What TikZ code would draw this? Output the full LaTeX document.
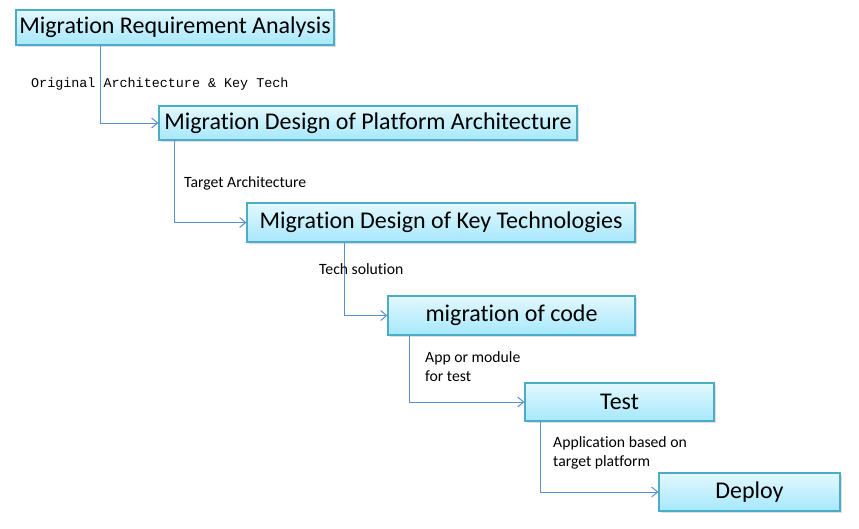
\documentclass[tikz,border=0pt]{standalone}
\usepackage{fontspec}
\setmainfont[Ligatures=NoCommon]{Carlito}
\newfontfamily\codefont{Liberation Mono}
\usetikzlibrary{arrows.meta,shadows}

\definecolor{boxtop}{HTML}{E3F8FE}
\definecolor{boxbottom}{HTML}{A6E8FC}
\definecolor{boxline}{HTML}{4BACC6}
\definecolor{flowline}{HTML}{5B8FD0}

\tikzset{
    phase/.style={draw=boxline, line width=1.2pt, top color=boxtop, bottom color=boxbottom,
        inner xsep=0pt, inner ysep=0pt,
        drop shadow={shadow xshift=2pt, shadow yshift=-2pt, opacity=0.25},
        font=\fontsize{24}{28}\selectfont},
    flow/.style={draw=flowline, line width=1pt, -{Straight Barb[length=6pt,width=10pt]}},
    note/.style={anchor=west, inner sep=0pt, align=left, font=\fontsize{15.7}{19}\selectfont}
}

\begin{document}
\begin{tikzpicture}[x=1pt, y=-1pt]
    \useasboundingbox (0,0) rectangle (859,528);

    % phases
    \node [phase, minimum width=318pt, minimum height=35pt] (req) at (175,27.5) {Migration Requirement Analysis};
    \node [phase, minimum width=418pt, minimum height=34pt] (plat) at (368,123) {Migration Design of Platform Architecture};
    \node [phase, minimum width=388pt, minimum height=39pt] (keytech) at (441,222.5) {Migration Design of Key Technologies};
    \node [phase, minimum width=247pt, minimum height=39pt] (code) at (511.5,315.5) {migration of code};
    \node [phase, minimum width=189pt, minimum height=38pt] (test) at (619.5,402) {Test};
    \node [phase, minimum width=181pt, minimum height=38pt] (deploy) at (749.5,492) {Deploy};

    % hand-over
    \foreach \a/\b/\dx in {req/plat/85, plat/keytech/16, keytech/code/98, code/test/22, test/deploy/16} {
        \draw [flow] ([xshift=\dx pt]\a.south west) |- (\b.west);
    }

    % outputs
    \node [note, font=\codefont\fontsize{13.4}{16}\selectfont] (origarch) at (31,84) {Original Architecture \& Key Tech};
    \node [note] (targarch) at (184,183) {Target Architecture};
    \node [note] (techsol) at (319,269) {Tech solution};
    \node [note] (appmod) at (425,366.5) {App or module\\for test};
    \node [note] (appplat) at (553,453) {Application based on\\target platform};
\end{tikzpicture}
\end{document}
